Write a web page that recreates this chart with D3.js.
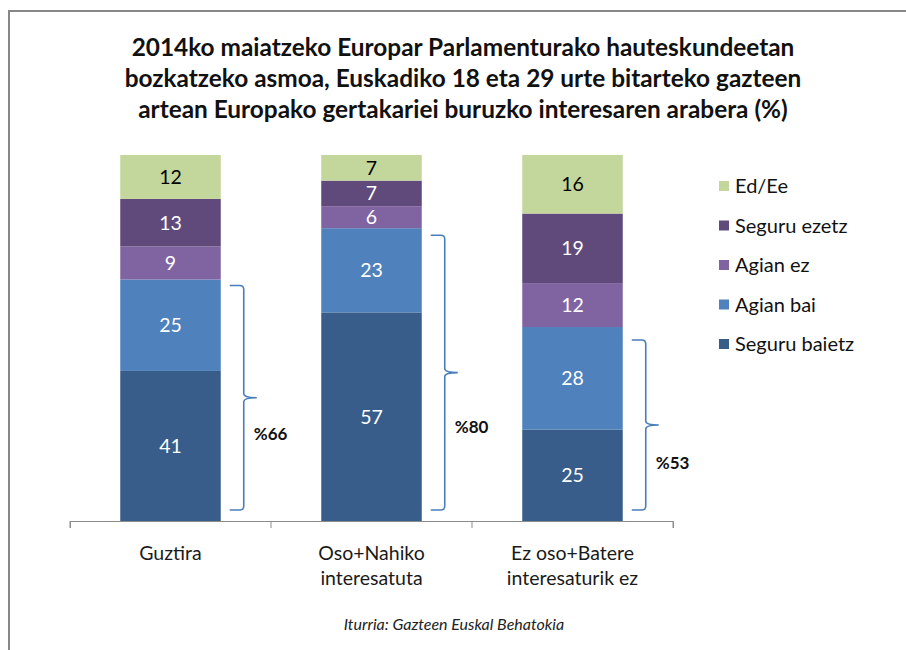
<!DOCTYPE html>
<html><head><meta charset="utf-8">
<script src="https://cdn.jsdelivr.net/npm/d3@7"></script>
<style>body{margin:0;background:#fff}svg{display:block}</style>
</head><body><svg id="c" width="906" height="650"></svg>
<script>
// ---- data ----
const titleLines = [
  "2014ko maiatzeko Europar Parlamenturako hauteskundeetan",
  "bozkatzeko asmoa, Euskadiko  18 eta 29 urte bitarteko gazteen",
  "artean Europako gertakariei buruzko interesaren arabera (%)"
];
const categories = ["Guztira", "Oso+Nahiko interesatuta", "Ez oso+Batere interesaturik ez"];
const categoryLines = [["Guztira"], ["Oso+Nahiko", "interesatuta"], ["Ez oso+Batere", "interesaturik ez"]];
const seriesNames = ["Seguru baietz", "Agian bai", "Agian ez", "Seguru ezetz", "Ed/Ee"];
const seguruBaietz = [41, 57, 25];
const agianBai = [25, 23, 28];
const agianEz = [9, 6, 12];
const seguruEzetz = [13, 7, 19];
const edEe = [12, 7, 16];
const sourceText = "Iturria: Gazteen Euskal Behatokia";

// ---- style / layout ----
const colors = ["#385d8a", "#4f81bd", "#8064a2", "#604a7b", "#c3d69b"];
const labelColors = ["#ffffff", "#ffffff", "#ffffff", "#ffffff", "#000000"];
const FONT = "Lato, 'Open Sans', sans-serif";
const braceTopGap = [6, 7, 13];
const braceLabelOffset = [36, 54, 38];

const svg = d3.select("#c");
const W = 906, H = 650;

// frame
svg.append("rect").attr("width", W).attr("height", H).attr("fill", "#fff");
svg.append("path").attr("d", `M9,650 V11 H906`).attr("fill", "none")
   .attr("stroke", "#878787").attr("stroke-width", 2);

// table
const seriesValues = [seguruBaietz, agianBai, agianEz, seguruEzetz, edEe];
const rows = categories.map((c, i) => {
  const r = {cat: c};
  seriesNames.forEach((s, k) => r[s] = seriesValues[k][i]);
  return r;
});
const stacked = d3.stack().keys(seriesNames)(rows);

const x = d3.scaleBand().domain(categories).range([70, 673]).paddingInner(0.5).paddingOuter(0.25);
const y = d3.scaleLinear().domain([0, 100]).range([521, 155]);

// bars
const g = svg.append("g");
stacked.forEach((layer, k) => {
  g.selectAll(null).data(layer).enter().append("rect")
    .attr("x", d => x(d.data.cat))
    .attr("width", x.bandwidth())
    .attr("y", d => y(d[1]))
    .attr("height", d => y(d[0]) - y(d[1]))
    .attr("fill", colors[k]);
  g.selectAll(null).data(layer).enter().append("text")
    .attr("x", d => x(d.data.cat) + x.bandwidth() / 2)
    .attr("y", d => (y(d[0]) + y(d[1])) / 2)
    .attr("dy", "0.36em")
    .attr("text-anchor", "middle")
    .attr("font-family", FONT).attr("font-size", 19.5)
    .attr("fill", labelColors[k])
    .text(d => d[1] - d[0]);
});

// axis
const axisG = svg.append("g").attr("transform", `translate(0,${y(0)})`)
  .call(d3.axisBottom(x).tickSize(0).tickSizeOuter(7).tickFormat(""));
axisG.select(".domain").attr("stroke", "#8c8c8c");
const step = x.step();
const bounds = d3.range(categories.length + 1).map(i => x.range()[0] + i * step);
axisG.selectAll(".bt").data(bounds).enter().append("line")
  .attr("x1", d => d).attr("x2", d => d).attr("y1", 0).attr("y2", 7)
  .attr("stroke", "#8c8c8c");
categories.forEach((c, i) => {
  const t = svg.append("text").attr("text-anchor", "middle")
    .attr("font-family", FONT).attr("font-size", 19.5).attr("fill", "#1a1a1a");
  categoryLines[i].forEach((ln, j) => {
    t.append("tspan").attr("x", x(c) + x.bandwidth() / 2).attr("y", 560 + j * 25).text(ln);
  });
});

// braces
const bc = "#4a7ebb";
categories.forEach((c, i) => {
  const total = seguruBaietz[i] + agianBai[i];
  const xr = x(c) + x.bandwidth();
  const x0 = xr + 9, x1 = xr + 23, x2 = xr + 36;
  const yT = y(total) + braceTopGap[i], yB = y(0) - 11, yM = (yT + yB) / 2;
  const p = d3.path();
  p.moveTo(x0, yT); p.lineTo(x1 - 4, yT); p.quadraticCurveTo(x1, yT, x1, yT + 4);
  p.lineTo(x1, yM - 4); p.quadraticCurveTo(x1, yM, x2, yM);
  p.moveTo(x2, yM); p.quadraticCurveTo(x1, yM, x1, yM + 4);
  p.lineTo(x1, yB - 4); p.quadraticCurveTo(x1, yB, x1 - 4, yB); p.lineTo(x0, yB);
  svg.append("path").attr("d", p.toString()).attr("fill", "none")
    .attr("stroke", bc).attr("stroke-width", 1.6);
  svg.append("text").attr("x", xr + 33).attr("y", yM + braceLabelOffset[i]).attr("dy", "0.36em")
    .attr("font-family", FONT).attr("font-weight", "bold").attr("font-size", 17)
    .attr("fill", "#111").text("%" + total);
});

// legend (reverse order, top = Ed/Ee)
const legendOrder = seriesNames.map((s, k) => k).reverse();
legendOrder.forEach((k, j) => {
  const cy = 186 + j * 39.5;
  svg.append("rect").attr("x", 719).attr("y", cy - 5).attr("width", 10).attr("height", 10)
    .attr("fill", colors[k]);
  svg.append("text").attr("x", 735).attr("y", cy).attr("dy", "0.36em")
    .attr("font-family", FONT).attr("font-size", 20).attr("fill", "#111")
    .text(seriesNames[k]);
});

// title
const tt = svg.append("text").attr("text-anchor", "middle")
  .attr("font-family", FONT).attr("font-weight", "bold").attr("font-size", 24.4).attr("fill", "#111");
titleLines.forEach((ln, j) => {
  tt.append("tspan").attr("x", 463).attr("y", 56 + j * 31).text(ln);
});

// source
svg.append("text").attr("x", 454).attr("y", 630).attr("text-anchor", "middle")
  .attr("font-family", FONT).attr("font-style", "italic").attr("font-size", 16)
  .attr("fill", "#222").text(sourceText);
</script></body></html>
